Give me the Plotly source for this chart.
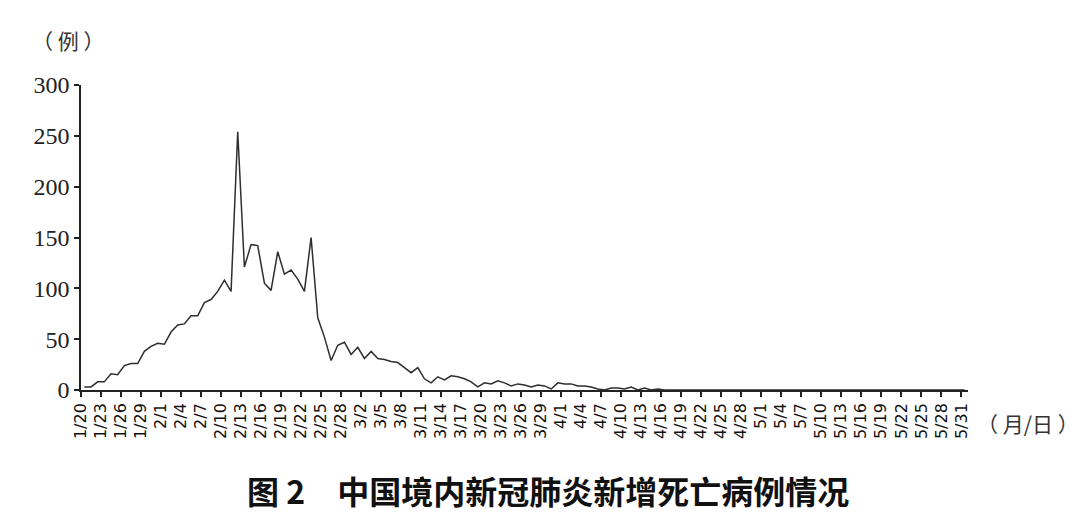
import pandas as pd
import plotly.graph_objects as go

# === daily new deaths, 1/20 - 5/31 ===
deaths_jan = [3, 3, 8, 8, 16, 15, 24, 26, 26, 38, 43, 46]
deaths_feb = [45, 57, 64, 65, 73, 73, 86, 89, 97, 108, 97, 254, 121, 143, 142,
              105, 98, 136, 114, 118, 109, 97, 150, 71, 52, 29, 44, 47, 35]
deaths_mar = [42, 31, 38, 31, 30, 28, 27, 22, 17, 22, 11, 7, 13, 10, 14, 13,
              11, 8, 3, 7, 6, 9, 7, 4, 6, 5, 3, 5, 4, 1, 7]
deaths_apr = [6, 6, 4, 4, 3, 1, 0, 2, 2, 1, 3, 0, 2, 0, 1,
              0, 0, 0, 0, 0, 0, 0, 0, 0, 0, 0, 0, 0, 0, 0]
deaths_may = [0] * 31
deaths = deaths_jan + deaths_feb + deaths_mar + deaths_apr + deaths_may

dates = pd.date_range("2020-01-20", "2020-05-31", freq="D")

tick_labels = ["1/20", "1/23", "1/26", "1/29", "2/1", "2/4", "2/7", "2/10",
               "2/13", "2/16", "2/19", "2/22", "2/25", "2/28", "3/2", "3/5",
               "3/8", "3/11", "3/14", "3/17", "3/20", "3/23", "3/26", "3/29",
               "4/1", "4/4", "4/7", "4/10", "4/13", "4/16", "4/19", "4/22",
               "4/25", "4/28", "5/1", "5/4", "5/7", "5/10", "5/13", "5/16",
               "5/19", "5/22", "5/25", "5/28", "5/31"]
y_ticks = [0, 50, 100, 150, 200, 250, 300]

half_day = pd.Timedelta(hours=12)
tick_pos = [d - half_day for d in dates[::3]]

# page has an 8px body margin, so the plot box is set 8px up/left
fig = go.Figure()
fig.add_trace(go.Scatter(
    x=dates, y=deaths, mode="lines",
    line=dict(color="#2e2e2e", width=1.5),
    hoverinfo="x+y", showlegend=False
))

fig.update_layout(
    width=1080, height=524,
    margin=dict(l=73, r=120, t=77, b=142),
    paper_bgcolor="white", plot_bgcolor="white",
    xaxis=dict(
        range=[dates[0] - half_day, dates[-1] + half_day],
        tickmode="array", tickvals=tick_pos, ticktext=tick_labels,
        tickangle=-90, ticks="outside", ticklen=5, tickwidth=1.5, tickcolor="#222",
        showline=True, linecolor="#222", linewidth=1.5, showgrid=False, zeroline=False,
        tickfont=dict(family="DejaVu Sans", size=16, color="#111"),
    ),
    yaxis=dict(
        range=[0, 300], tickvals=y_ticks,
        ticks="outside", ticklen=5, tickwidth=1.5, tickcolor="#222",
        showline=True, linecolor="#222", linewidth=1.5, showgrid=False, zeroline=False,
        tickfont=dict(family="Liberation Serif", size=24, color="#222"),
    ),
)

# axis unit labels and figure caption (positions in plot-box fractions)
fig.add_annotation(text="（ 例 ）", xref="paper", yref="paper",
                   x=(30 - 81) / 887, y=(390 - 40) / 305, yanchor="middle",
                   xanchor="left", showarrow=False,
                   font=dict(family="Noto Sans CJK SC", size=21, color="#333"))
fig.add_annotation(text="（ 月/日 ）", xref="paper", yref="paper",
                   x=(975 - 81) / 887, y=(390 - 423) / 305, yanchor="middle",
                   xanchor="left", showarrow=False,
                   font=dict(family="Noto Sans CJK SC", size=21, color="#333"))
fig.add_annotation(text="<b>图 2</b>\u3000<b>中国境内新冠肺炎新增死亡病例情况</b>",
                   xref="paper", yref="paper",
                   x=(548 - 81) / 887, y=(390 - 490) / 305, yanchor="middle",
                   xanchor="center", showarrow=False,
                   font=dict(family="Noto Sans CJK SC", size=32, color="#111"))

fig.write_html("out.html")
